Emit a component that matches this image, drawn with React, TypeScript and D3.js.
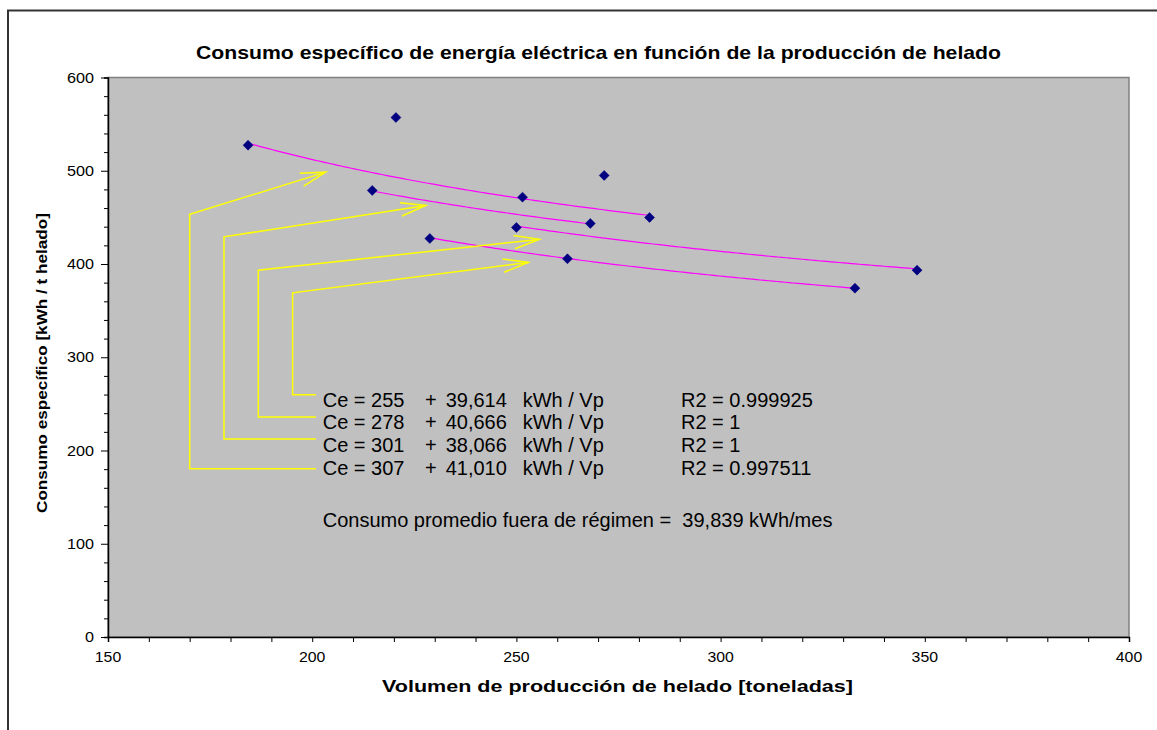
import React, { useEffect, useRef } from 'react';
import * as d3 from 'd3';

// puntos medidos (volumen [t], consumo específico [kWh/t])
const volumen = [184.3, 220.5, 214.7, 228.8, 271.5, 251.5, 282.6, 268.1, 250.0, 262.5, 348.1, 332.9];
const consumo = [527.4, 557.1, 478.9, 427.4, 495.0, 471.7, 449.9, 443.5, 439.2, 405.6, 393.4, 374.1];

// líneas de tendencia Ce = a + b / Vp
const trendA = [255, 278, 301, 307];
const trendB = [39614, 40666, 38066, 41010];
const trendR2 = ['0.999925', '1', '1', '0.997511'];
const trendFrom = [228.8, 250.0, 214.7, 184.3];
const trendTo = [332.9, 348.1, 268.1, 282.6];

// flechas amarillas (en unidades de datos)
const elbowX = [195.2, 186.8, 178.4, 170.0];
const elbowTopY = [369.1, 393.4, 429.1, 453.2];
const footY = [259.8, 235.8, 212.3, 180.4];
const tipX = [252.9, 255.6, 227.8, 203.3];
const tipY = [401.7, 426.4, 462.8, 498.5];

const xTicks = [150, 200, 250, 300, 350, 400];
const yTicks = [0, 100, 200, 300, 400, 500, 600];

const consumoPromedio = 39839;

const FONT = 'Arial, "Liberation Sans", sans-serif';

const App = () => {
  const svgRef = useRef(null);

  useEffect(() => {
    const svg = d3.select(svgRef.current);
    svg.selectAll('*').remove();

    const width = 1157;
    const height = 730;
    const plot = { left: 108, right: 1129, top: 77.5, bottom: 637 };

    const x = d3.scaleLinear().domain([150, 400]).range([plot.left, plot.right]);
    const y = d3.scaleLinear().domain([0, 600]).range([plot.bottom, plot.top]);

    svg.attr('width', width).attr('height', height);

    svg.append('rect').attr('width', width).attr('height', height).attr('fill', '#fff');

    // marco exterior
    svg.append('path')
      .attr('d', `M8,${height} V10.5 H${width}`)
      .attr('fill', 'none')
      .attr('stroke', '#333')
      .attr('stroke-width', 2);

    // área de trazado
    svg.append('rect')
      .attr('x', plot.left)
      .attr('y', plot.top)
      .attr('width', plot.right - plot.left)
      .attr('height', plot.bottom - plot.top)
      .attr('fill', '#c0c0c0')
      .attr('stroke', '#808080')
      .attr('stroke-width', 1.5);

    // título
    svg.append('text')
      .attr('x', 598.5)
      .attr('y', 59)
      .attr('text-anchor', 'middle')
      .attr('font-family', FONT)
      .attr('font-weight', 'bold')
      .attr('font-size', 19)
      .attr('textLength', 805)
      .attr('lengthAdjust', 'spacingAndGlyphs')
      .text('Consumo específico de energía eléctrica en función de la producción de helado');

    // ejes
    const xAxis = svg.append('g')
      .attr('transform', `translate(0,${plot.bottom})`)
      .call(d3.axisBottom(x).tickValues(d3.range(150, 401, 10)).tickSize(5).tickFormat(() => ''));
    xAxis.select('.domain').attr('stroke', '#000').attr('stroke-width', 1.5);
    xAxis.selectAll('line').attr('stroke', '#000');

    const yAxis = svg.append('g')
      .attr('transform', `translate(${plot.left},0)`)
      .call(d3.axisLeft(y).tickValues(d3.range(0, 601, 20)).tickSize(4).tickFormat(() => ''));
    yAxis.select('.domain').attr('stroke', '#000').attr('stroke-width', 1.5);
    yAxis.selectAll('line').attr('stroke', '#000');
    yAxis.selectAll('.tick line')
      .filter((d) => d % 100 === 0)
      .attr('x2', -7);

    svg.append('g')
      .selectAll('text')
      .data(xTicks)
      .enter()
      .append('text')
      .attr('x', (d) => x(d))
      .attr('y', plot.bottom + 24.5)
      .attr('text-anchor', 'middle')
      .attr('font-family', FONT)
      .attr('font-size', 14)
      .attr('textLength', (d) => String(d).length * 8.8)
      .attr('lengthAdjust', 'spacingAndGlyphs')
      .text((d) => d);

    svg.append('g')
      .selectAll('text')
      .data(yTicks)
      .enter()
      .append('text')
      .attr('x', 94)
      .attr('y', (d) => y(d) + 5)
      .attr('text-anchor', 'end')
      .attr('font-family', FONT)
      .attr('font-size', 14)
      .attr('textLength', (d) => String(d).length * 9)
      .attr('lengthAdjust', 'spacingAndGlyphs')
      .text((d) => d);

    // títulos de ejes
    svg.append('text')
      .attr('x', 617.5)
      .attr('y', 692)
      .attr('text-anchor', 'middle')
      .attr('font-family', FONT)
      .attr('font-weight', 'bold')
      .attr('font-size', 16)
      .attr('textLength', 471)
      .attr('lengthAdjust', 'spacingAndGlyphs')
      .text('Volumen de producción de helado [toneladas]');

    svg.append('text')
      .attr('transform', 'translate(46.5,363) rotate(-90)')
      .attr('text-anchor', 'middle')
      .attr('font-family', FONT)
      .attr('font-weight', 'bold')
      .attr('font-size', 14.5)
      .attr('textLength', 300)
      .attr('lengthAdjust', 'spacingAndGlyphs')
      .text('Consumo específico [kWh / t helado]');

    // líneas de tendencia
    const line = d3.line().x((d) => x(d[0])).y((d) => y(d[1]));
    trendA.forEach((a, i) => {
      const xs = d3.range(trendFrom[i], trendTo[i], 1).concat([trendTo[i]]);
      svg.append('path')
        .datum(xs.map((v) => [v, a + trendB[i] / v]))
        .attr('d', line)
        .attr('fill', 'none')
        .attr('stroke', '#ff00ff')
        .attr('stroke-width', 1.2);
    });

    // flechas
    const footEnd = x(200.9);
    elbowX.forEach((ex, i) => {
      const px = x(ex);
      const tx = x(tipX[i]);
      const ty = y(tipY[i]);
      const topY = y(elbowTopY[i]);
      const ang = Math.atan2(ty - topY, tx - px);
      const len = 26;
      const w1 = [tx - len * Math.cos(ang - Math.PI / 12), ty - len * Math.sin(ang - Math.PI / 12)];
      const w2 = [tx - len * Math.cos(ang + Math.PI / 12), ty - len * Math.sin(ang + Math.PI / 12)];
      svg.append('path')
        .attr('d', `M${footEnd},${y(footY[i])} H${px} V${topY} L${tx},${ty}`)
        .attr('fill', 'none')
        .attr('stroke', '#ffff00')
        .attr('stroke-width', 1.5);
      svg.append('path')
        .attr('d', `M${w1[0]},${w1[1]} L${tx},${ty} L${w2[0]},${w2[1]}`)
        .attr('fill', 'none')
        .attr('stroke', '#ffff00')
        .attr('stroke-width', 1.5);
    });

    // puntos
    const diamond = d3.symbol().type(d3.symbolDiamond2).size(64);
    svg.append('g')
      .selectAll('path')
      .data(volumen)
      .enter()
      .append('path')
      .attr('transform', (d, i) => `translate(${x(d)},${y(consumo[i])})`)
      .attr('d', diamond)
      .attr('fill', '#000080')
      .attr('stroke', '#000080')
      .attr('stroke-width', 0.5);

    // ecuaciones
    const fmt = d3.format(',');
    const eq = svg.append('g').attr('font-family', FONT).attr('font-size', 20).attr('fill', '#000');
    trendA.forEach((a, i) => {
      const by = 406.5 + i * 22.7;
      eq.append('text').attr('x', 322.7).attr('y', by).text(`Ce = ${a}`);
      eq.append('text').attr('x', 425).attr('y', by).text('+');
      eq.append('text').attr('x', 445.7).attr('y', by).text(fmt(trendB[i]));
      eq.append('text').attr('x', 522.7).attr('y', by).text('kWh / Vp');
      eq.append('text').attr('x', 681).attr('y', by).text(`R2 = ${trendR2[i]}`);
    });
    eq.append('text')
      .attr('x', 322.7)
      .attr('y', 527)
      .attr('xml:space', 'preserve')
      .style('white-space', 'pre')
      .text(`Consumo promedio fuera de régimen =  ${fmt(consumoPromedio)} kWh/mes`);
  }, []);

  return (
    <svg
      ref={svgRef}
      style={{ position: 'absolute', left: 0, top: 0, display: 'block' }}
      viewBox="0 0 1157 730"
    ></svg>
  );
};

export default App;
